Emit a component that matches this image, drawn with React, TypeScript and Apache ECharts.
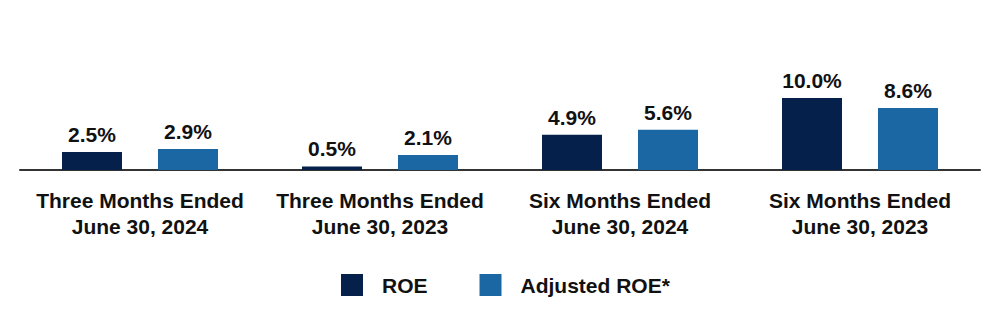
import React, { useEffect, useRef } from "react";
import * as echarts from "echarts";

const categories = [
  "Three Months Ended\nJune 30, 2024",
  "Three Months Ended\nJune 30, 2023",
  "Six Months Ended\nJune 30, 2024",
  "Six Months Ended\nJune 30, 2023",
];
const roe = [2.5, 0.5, 4.9, 10.0];
const adjustedRoe = [2.9, 2.1, 5.6, 8.6];
const seriesNames = ["ROE", "Adjusted ROE*"];
const colors = ["#05204a", "#1b67a4"];

const FONT = "'Liberation Sans', Arial, sans-serif";

export default function App() {
  const ref = useRef<HTMLDivElement>(null);
  useEffect(() => {
    document.body.style.margin = "0";
    const chart = echarts.init(ref.current!, null, { renderer: "svg" });
    const label = {
      show: true,
      position: "top",
      distance: 7,
      formatter: (p: any) => p.value.toFixed(1) + "%",
      color: "#111",
      fontFamily: FONT,
      fontWeight: "bold",
      fontSize: 21,
    };
    chart.setOption({
      animation: false,
      backgroundColor: "#ffffff",
      grid: { left: 20, right: 20, top: 62, bottom: 156, containLabel: false },
      legend: {
        left: 341,
        top: 274,
        padding: 0,
        itemWidth: 22,
        itemHeight: 22,
        itemGap: 52,
        icon: "rect",
        data: seriesNames,
        textStyle: {
          fontFamily: FONT,
          fontWeight: "bold",
          fontSize: 21,
          color: "#111",
          padding: [0, 0, 0, 14],
        },
      },
      xAxis: {
        type: "category",
        data: categories,
        axisLine: { show: true, lineStyle: { color: "#333", width: 2 } },
        axisTick: { show: false },
        axisLabel: {
          fontFamily: FONT,
          fontWeight: "bold",
          fontSize: 21,
          color: "#111",
          lineHeight: 26,
          margin: 17,
          interval: 0,
        },
      },
      yAxis: {
        type: "value",
        min: 0,
        max: 15,
        show: false,
        splitLine: { show: false },
      },
      series: [
        {
          name: seriesNames[0],
          type: "bar",
          data: roe,
          barWidth: 60,
          barGap: "60%",
          itemStyle: { color: colors[0] },
          label,
        },
        {
          name: seriesNames[1],
          type: "bar",
          data: adjustedRoe,
          barWidth: 60,
          itemStyle: { color: colors[1] },
          label,
        },
      ],
    });
    return () => chart.dispose();
  }, []);
  return <div ref={ref} style={{ width: 1000, height: 326 }} />;
}
